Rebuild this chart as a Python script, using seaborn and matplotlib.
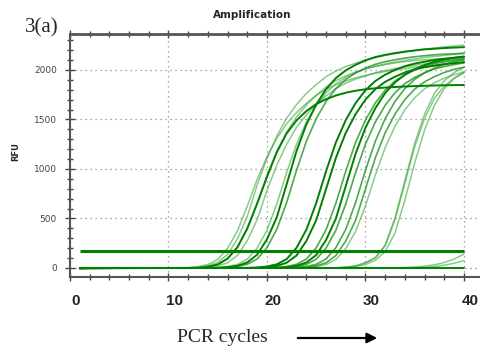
import numpy as np
import pandas as pd
import matplotlib
matplotlib.use("Agg")
import matplotlib.pyplot as plt
import matplotlib.transforms as mtransforms
from matplotlib.ticker import MultipleLocator
import seaborn as sns

# PCR cycle numbers and RFU readings for every well
cycles = list(range(1, 41))

a1 = [0, 0, 0, 0, 0, 0, 0, 0, 0, 0, 0, 2, 9, 23, 57, 136, 294, 520, 836, 1107,
      1333, 1514, 1650, 1763, 1853, 1932, 1989, 2034, 2068, 2102, 2124, 2147, 2165, 2181, 2197, 2210, 2222, 2233, 2242, 2251]
a2 = [0, 0, 0, 0, 0, 0, 0, 0, 0, 0, 0, 1, 5, 15, 37, 92, 207, 392, 654, 937,
      1177, 1373, 1526, 1646, 1744, 1827, 1892, 1940, 1979, 2012, 2038, 2060, 2080, 2097, 2110, 2126, 2136, 2147, 2158, 2167]
a3 = [0, 0, 0, 0, 0, 0, 0, 0, 0, 0, 0, 0, 2, 8, 21, 53, 127, 276, 488, 784,
      1039, 1251, 1420, 1548, 1654, 1738, 1813, 1866, 1908, 1940, 1972, 1993, 2014, 2031, 2046, 2061, 2073, 2084, 2095, 2103]
a4 = [0, 0, 0, 0, 0, 0, 0, 0, 0, 0, 1, 5, 15, 35, 87, 198, 374, 624, 894, 1123,
      1310, 1456, 1570, 1664, 1743, 1805, 1851, 1889, 1920, 1945, 1966, 1984, 2001, 2013, 2028, 2038, 2049, 2059, 2068, 2076]
a5 = [0, 0, 0, 0, 0, 0, 0, 0, 0, 0, 0, 0, 0, 12, 35, 95, 210, 400, 650, 920,
      1170, 1360, 1490, 1585, 1655, 1705, 1742, 1770, 1790, 1805, 1815, 1822, 1828, 1833, 1837, 1840, 1843, 1845, 1847, 1848]
b1 = [0, 0, 0, 0, 0, 0, 0, 0, 0, 0, 0, 0, 0, 0, 2, 9, 22, 56, 134, 290,
      513, 847, 1182, 1450, 1650, 1806, 1918, 1996, 2052, 2096, 2130, 2152, 2170, 2185, 2197, 2208, 2214, 2221, 2226, 2230]
b2 = [0, 0, 0, 0, 0, 0, 0, 0, 0, 0, 0, 0, 0, 0, 1, 5, 15, 37, 91, 206,
      391, 662, 987, 1280, 1508, 1682, 1812, 1905, 1970, 2018, 2057, 2083, 2103, 2120, 2133, 2144, 2153, 2159, 2163, 2168]
b3 = [0, 0, 0, 0, 0, 0, 0, 0, 0, 0, 0, 0, 0, 1, 5, 15, 36, 89, 201, 382,
      647, 965, 1251, 1473, 1643, 1770, 1861, 1925, 1972, 2010, 2035, 2054, 2071, 2084, 2095, 2103, 2109, 2114, 2117, 2120]
c1 = [0, 0, 0, 0, 0, 0, 0, 0, 0, 0, 0, 0, 0, 0, 0, 0, 0, 1, 5, 15,
      37, 90, 204, 387, 656, 978, 1269, 1494, 1666, 1795, 1888, 1952, 2000, 2038, 2064, 2083, 2101, 2113, 2124, 2133]
c2 = [0, 0, 0, 0, 0, 0, 0, 0, 0, 0, 0, 0, 0, 0, 0, 0, 0, 0, 2, 8,
      21, 53, 126, 273, 483, 798, 1113, 1365, 1554, 1701, 1806, 1880, 1932, 1974, 2006, 2027, 2043, 2058, 2069, 2079]
d1 = [0, 0, 0, 0, 0, 0, 0, 0, 0, 0, 0, 0, 0, 0, 0, 0, 0, 0, 0, 1,
      5, 15, 37, 90, 204, 387, 656, 978, 1269, 1494, 1666, 1795, 1888, 1952, 2000, 2038, 2064, 2083, 2101, 2113]
d2 = [0, 0, 0, 0, 0, 0, 0, 0, 0, 0, 0, 0, 0, 0, 0, 0, 0, 0, 0, 0,
      2, 9, 22, 55, 131, 283, 501, 828, 1155, 1417, 1613, 1766, 1875, 1951, 2006, 2049, 2082, 2104, 2121, 2136]
d3 = [0, 0, 0, 0, 0, 0, 0, 0, 0, 0, 0, 0, 0, 0, 0, 0, 0, 0, 0, 0,
      1, 5, 15, 36, 89, 201, 382, 647, 965, 1251, 1473, 1643, 1770, 1861, 1925, 1972, 2010, 2035, 2054, 2071]
e1 = [0, 0, 0, 0, 0, 0, 0, 0, 0, 0, 0, 0, 0, 0, 0, 0, 0, 0, 0, 0,
      0, 1, 5, 15, 37, 91, 206, 391, 662, 987, 1280, 1508, 1682, 1812, 1905, 1970, 2018, 2057, 2083, 2103]
e2 = [0, 0, 0, 0, 0, 0, 0, 0, 0, 0, 0, 0, 0, 0, 0, 0, 0, 0, 0, 0,
      0, 0, 2, 8, 21, 53, 126, 273, 483, 798, 1113, 1365, 1554, 1701, 1806, 1880, 1932, 1974, 2006, 2027]
e3 = [0, 0, 0, 0, 0, 0, 0, 0, 0, 0, 0, 0, 0, 0, 0, 0, 0, 0, 0, 0,
      0, 0, 1, 5, 14, 35, 87, 196, 371, 628, 937, 1215, 1432, 1597, 1720, 1809, 1870, 1916, 1953, 1978]
f1 = [0, 0, 0, 0, 0, 0, 0, 0, 0, 0, 0, 0, 0, 0, 0, 0, 0, 0, 0, 0,
      0, 0, 0, 0, 0, 0, 2, 8, 21, 53, 105, 231, 504, 882, 1260, 1554, 1764, 1890, 1974, 2027]
f2 = [0, 0, 0, 0, 0, 0, 0, 0, 0, 0, 0, 0, 0, 0, 0, 0, 0, 0, 0, 0,
      0, 0, 0, 0, 0, 0, 1, 5, 15, 35, 77, 166, 354, 686, 1061, 1394, 1643, 1810, 1914, 1982]
f3 = [0, 0, 0, 0, 0, 0, 0, 0, 0, 0, 0, 0, 0, 0, 0, 0, 0, 0, 0, 0,
      0, 0, 0, 0, 0, 0, 2, 8, 20, 51, 102, 224, 490, 857, 1224, 1510, 1714, 1836, 1918, 1969]
l1 = [0, 0, 0, 0, 0, 0, 0, 0, 0, 0, 0, 0, 0, 0, 0, 0, 0, 0, 0, 0,
      0, 0, 0, 0, 0, 0, 0, 0, 0, 0, 0, 0, 2, 5, 10, 18, 32, 55, 90, 140]
l2 = [0, 0, 0, 0, 0, 0, 0, 0, 0, 0, 0, 0, 0, 0, 0, 0, 0, 0, 0, 0,
      0, 0, 0, 0, 0, 0, 0, 0, 0, 0, 0, 0, 0, 0, 3, 8, 15, 28, 48, 75]
ntc = [-8, -5, -4, -3, -2, -2, -1, -1, 0, 0, 0, 0, 0, 0, 0, 0, 0, 0, 0, 0,
       0, 0, 0, 0, 0, 0, 0, 0, 0, 0, 0, 0, 0, 0, 0, 0, 0, 0, 0, 0]
threshold = 175

x_ticks = [0, 10, 20, 30, 40]
y_ticks = [0, 500, 1000, 1500, 2000]

light = [a1, a2, a3, a4, f1, f2, f3, l1, l2, b3, e3]
medium = [b2, d1, d3, e1, e2]
dark = [a5, b1, c1, c2, d2, ntc]

sns.set_theme(style="white")
plt.rcParams['font.family'] = ['DejaVu Sans']

fig = plt.figure(figsize=(4.81, 3.52), dpi=100)
ax = fig.add_axes([70 / 481, 1 - 277 / 352, 411 / 481, 243 / 352])

for vals in light:
    sns.lineplot(x=cycles, y=vals, ax=ax, color='#3aa83a', alpha=0.6, lw=1.1)
for vals in medium:
    sns.lineplot(x=cycles, y=vals, ax=ax, color='#1f951f', alpha=0.8, lw=1.2)
for vals in dark:
    sns.lineplot(x=cycles, y=vals, ax=ax, color='#008000', lw=1.4)
ax.hlines(threshold, cycles[0], cycles[-1], color='#008000', lw=2.2)

ax.set_xlim(0, 41.73)
ax.set_ylim(-91, 2363)
ax.set_xticks(x_ticks)
ax.set_yticks(y_ticks)
ax.xaxis.set_minor_locator(MultipleLocator(2))
ax.yaxis.set_minor_locator(MultipleLocator(100))
ax.set_xlabel('')
ax.set_ylabel('')

ax.grid(True, which='major', linestyle=(0, (1, 3)), color='#8a8a8a', lw=0.9)
ax.tick_params(axis='x', which='both', top=True, bottom=True, direction='inout', color='#444444')
ax.tick_params(axis='x', which='major', length=6, width=1, pad=9, labelsize=11)
ax.tick_params(axis='x', which='minor', length=5, width=1)
ax.tick_params(axis='y', which='both', left=True, direction='inout', color='#444444')
ax.tick_params(axis='y', which='major', length=7, width=1, pad=6, labelsize=6.5, labelcolor='#444444')
ax.tick_params(axis='y', which='minor', length=5, width=1)

offset = mtransforms.ScaledTranslation(6 / 100, 0, fig.dpi_scale_trans)
for lab in ax.get_xticklabels():
    lab.set_fontweight('bold')
    lab.set_family('Liberation Sans')
    lab.set_transform(lab.get_transform() + offset)

for side in ['top', 'left', 'bottom']:
    ax.spines[side].set_color('#555555')
ax.spines['top'].set_linewidth(2)
ax.spines['left'].set_linewidth(1.5)
ax.spines['bottom'].set_linewidth(1.5)
ax.spines['right'].set_visible(False)

fig.text(252 / 481, 1 - 15 / 352, 'Amplification', ha='center', va='center',
         fontsize=7.5, fontweight='bold')
fig.text(42 / 481, 1 - 28 / 352, '3(a)', ha='center', va='center',
         fontsize=15, family='Liberation Serif')
fig.text(16 / 481, 1 - 152 / 352, 'RFU', ha='center', va='center', rotation=90,
         fontsize=6, fontweight='bold')
fig.text(222 / 481, 1 - 338 / 352, 'PCR cycles', ha='center', va='center',
         fontsize=14, family='Liberation Serif')
fig.add_artist(matplotlib.patches.FancyArrowPatch(
    (295 / 481, 1 - 338 / 352), (380 / 481, 1 - 338 / 352),
    transform=fig.transFigure, arrowstyle='-|>', mutation_scale=15,
    color='black', lw=1.6))

fig.savefig('out.png', dpi=100)
